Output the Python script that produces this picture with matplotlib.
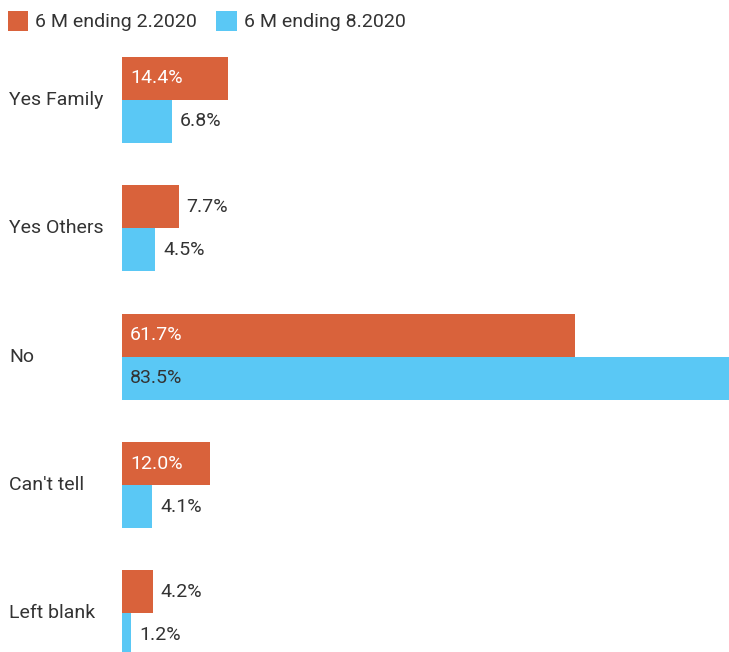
import numpy as np
import matplotlib
matplotlib.use('Agg')
import matplotlib.pyplot as plt
from matplotlib.patches import Patch

categories = ['Yes Family', 'Yes Others', 'No', "Can't tell", 'Left blank']
series_names = ['6 M ending 2.2020', '6 M ending 8.2020']
feb_2020 = [14.4, 7.7, 61.7, 12.0, 4.2]
aug_2020 = [6.8, 4.5, 83.5, 4.1, 1.2]

ORANGE = '#D9623B'
BLUE = '#5AC8F5'
TEXT = '#333333'
FS = 14

plt.rcParams['font.family'] = ['Roboto', 'DejaVu Sans']

fig = plt.figure(figsize=(7.29, 6.52), dpi=100)
W, H = 729, 652
ax = fig.add_axes([122 / W, 0, 1 - 122 / W, 1 - 46 / H])

y = np.arange(len(categories))
h = 0.335
px_per_pct = 7.35
scale_max = 607 / px_per_pct

bars1 = ax.barh(y - h / 2, feb_2020, height=h, color=ORANGE)
bars2 = ax.barh(y + h / 2, aug_2020, height=h, color=BLUE)

ax.set_xlim(0, scale_max)
ax.set_ylim(4.30, -0.42)
ax.axis('off')

pad = 8 / px_per_pct
for bars, vals, inside_col in [(bars1, feb_2020, 'white'), (bars2, aug_2020, TEXT)]:
    for b, v in zip(bars, vals):
        yc = b.get_y() + b.get_height() / 2
        if v > 10:
            ax.text(pad, yc, f'{v:.1f}%', va='center', ha='left', color=inside_col, fontsize=FS)
        else:
            ax.text(v + pad, yc, f'{v:.1f}%', va='center', ha='left', color=TEXT, fontsize=FS)

for i, c in enumerate(categories):
    fig.text(9 / W, 1 - (100 + 128.3 * i) / H, c, ha='left', va='center', color=TEXT, fontsize=FS)

handles = [Patch(facecolor=ORANGE), Patch(facecolor=BLUE)]
fig.legend(handles, series_names, loc='upper left', bbox_to_anchor=(1 / W, 1 - 4 / H), ncol=2,
           frameon=False, fontsize=FS, handlelength=1.05, handleheight=1.2,
           handletextpad=0.35, columnspacing=1.0, borderaxespad=0.0, borderpad=0.35,
           labelcolor=TEXT)

fig.savefig('out.png', dpi=100)
